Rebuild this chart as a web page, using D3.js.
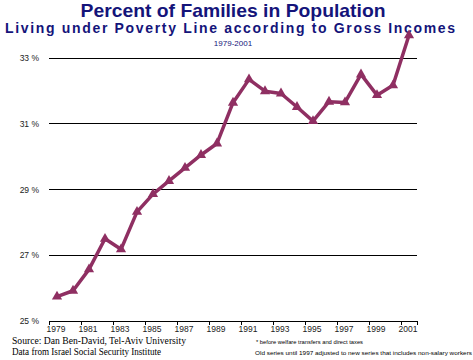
<!DOCTYPE html>
<html><head><meta charset="utf-8">
<script src="https://cdn.jsdelivr.net/npm/d3@7"></script>
<style>body{margin:0;background:#fff}svg{display:block}</style>
</head><body>
<script>
const years = ["1979","1980","1981","1982","1983","1984","1985","1986","1987","1988","1989","1990","1991","1992","1993","1994","1995","1996","1997","1998","1999","2000","2001"];
const values = [25.74,25.92,26.57,27.50,27.18,28.32,28.86,29.26,29.66,30.05,30.40,31.64,32.35,31.99,31.92,31.51,31.08,31.67,31.65,32.50,31.87,32.17,33.69];
const yTicks = [25,27,29,31,33];
const xLabels = ["1979","1981","1983","1985","1987","1989","1991","1993","1995","1997","1999","2001"];

const W=473,H=360;
const svg=d3.select("body").append("svg").attr("width",W).attr("height",H);
const x=d3.scaleBand().domain(years).range([49,417]).padding(0);
const y=d3.scaleLinear().domain([25,33]).range([321,58]);
const navy="#14147a";

svg.append("text").attr("x",233).attr("y",17).attr("text-anchor","middle")
 .attr("font-family","Liberation Sans, Arial, sans-serif").attr("font-weight","bold").attr("font-size",19).attr("fill",navy)
 .attr("textLength",305).attr("lengthAdjust","spacingAndGlyphs")
 .text("Percent of Families in Population");
svg.append("text").attr("x",230).attr("y",33).attr("text-anchor","middle")
 .attr("font-family","Liberation Sans, Arial, sans-serif").attr("font-weight","bold").attr("font-size",14).attr("fill",navy)
 .attr("textLength",450).attr("lengthAdjust","spacing")
 .text("Living under Poverty Line according to Gross Incomes");
svg.append("text").attr("x",233).attr("y",46).attr("text-anchor","middle")
 .attr("font-family","Liberation Sans, Arial, sans-serif").attr("font-size",8).attr("fill",navy)
 .text("1979-2001");

// gridlines
svg.append("g").selectAll("line").data(yTicks.filter(d=>d>25)).join("line")
 .attr("x1",49).attr("x2",417).attr("y1",d=>y(d)).attr("y2",d=>y(d))
 .attr("stroke","#000").attr("stroke-width",1).attr("shape-rendering","crispEdges");

// y labels
svg.append("g").selectAll("text").data(yTicks).join("text")
 .attr("x",39).attr("y",d=>y(d)+3).attr("text-anchor","end")
 .attr("font-family","Liberation Sans, Arial, sans-serif").attr("font-size",8.5).attr("fill","#222")
 .text(d=>d+" %");

// x axis
const xa=svg.append("g");
xa.append("line").attr("x1",49).attr("x2",418).attr("y1",321).attr("y2",321).attr("stroke","#000").attr("shape-rendering","crispEdges");
const tickPos=years.filter((d,i)=>i%2===0).map(d=>x(d)).concat([417]);
xa.selectAll("line.t").data(tickPos).join("line").attr("class","t")
 .attr("x1",d=>d).attr("x2",d=>d).attr("y1",321).attr("y2",325).attr("stroke","#000").attr("shape-rendering","crispEdges");
xa.selectAll("text").data(xLabels).join("text")
 .attr("x",d=>x(d)+x.bandwidth()/2-1).attr("y",332).attr("text-anchor","middle")
 .attr("font-family","Liberation Sans, Arial, sans-serif").attr("font-size",8.5).attr("fill","#222")
 .text(d=>d);

// line
const col="#8f2f62";
const line=d3.line().x((d,i)=>x(years[i])+x.bandwidth()/2).y(d=>y(d));
svg.append("path").datum(values).attr("d",line).attr("fill","none").attr("stroke",col).attr("stroke-width",3.5).attr("stroke-linejoin","round");
const tri=d3.symbol().type(d3.symbolTriangle).size(45);
svg.append("g").selectAll("path").data(values).join("path")
 .attr("transform",(d,i)=>`translate(${x(years[i])+x.bandwidth()/2},${y(d)})`)
 .attr("d",tri).attr("fill",col);

// source
const src=svg.append("g").attr("font-family","Liberation Serif, Times New Roman, serif").attr("font-size",9.5).attr("fill","#000");
src.append("text").attr("x",12).attr("y",344).attr("textLength",174).attr("lengthAdjust","spacingAndGlyphs").text("Source: Dan Ben-David, Tel-Aviv University");
src.append("text").attr("x",12).attr("y",355).attr("textLength",149).attr("lengthAdjust","spacingAndGlyphs").text("Data from Israel Social Security Institute");

const fn=svg.append("g").attr("font-family","Liberation Sans, Arial, sans-serif").attr("font-size",6).attr("fill","#000");
fn.append("text").attr("x",256).attr("y",344).attr("textLength",107).attr("lengthAdjust","spacingAndGlyphs").text("* before welfare transfers and direct taxes");
fn.append("text").attr("x",255).attr("y",355).attr("textLength",217).attr("lengthAdjust","spacingAndGlyphs").text("Old series until 1997 adjusted to new series that includes non-salary workers");
</script>
</body></html>
